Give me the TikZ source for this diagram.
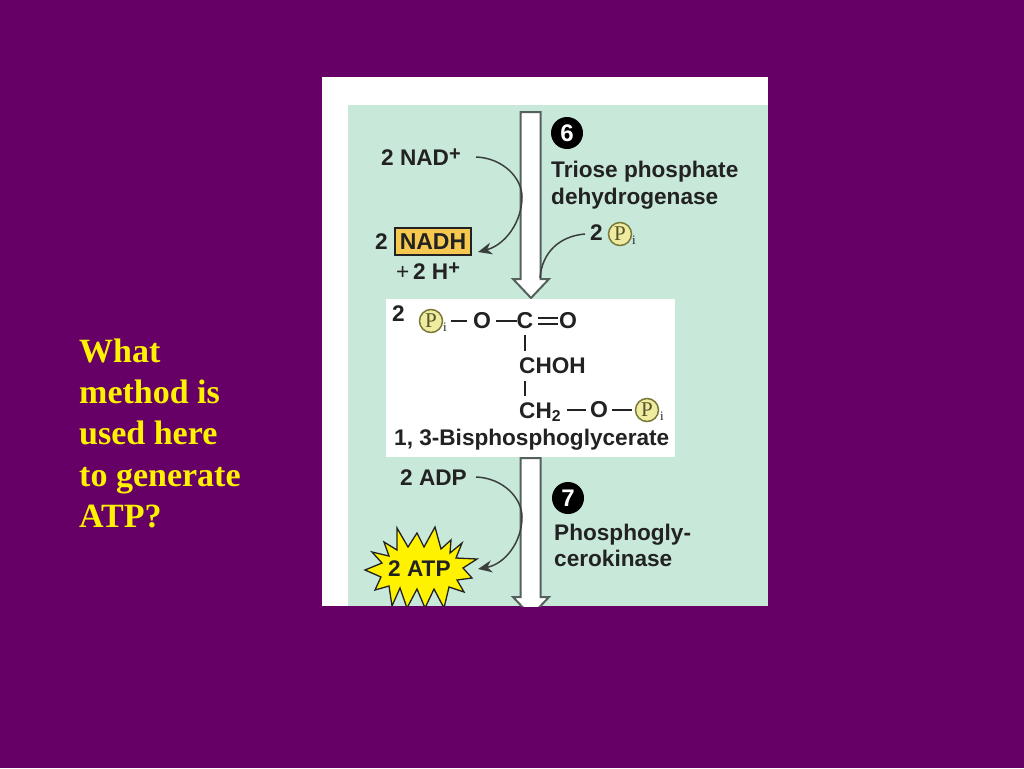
\documentclass[tikz,border=0pt]{standalone}
\usepackage{fontspec}
\setmainfont{Liberation Sans}
\newfontfamily\serifbold[BoldFont=Liberation Serif Bold]{Liberation Serif}
\usetikzlibrary{arrows.meta}
\definecolor{bgpurple}{HTML}{660066}
\definecolor{panelgreen}{HTML}{C8E8DA}
\definecolor{ink}{HTML}{222222}
\definecolor{pfill}{HTML}{EFEBA0}
\definecolor{pedge}{HTML}{7A7A38}
\definecolor{nadhfill}{HTML}{F6C850}
\tikzset{
  lab/.style={anchor=base west,inner sep=0pt,text=ink,font=\fontsize{22.6}{24}\bfseries},
  atom/.style={anchor=center,inner sep=0pt,text=ink,font=\fontsize{23}{24}\bfseries},
  title/.style={anchor=base west,inner sep=0pt,text=yellow,font=\fontsize{34}{36}\serifbold\bfseries},
  bond/.style={draw=ink,line width=1.4pt},
  curvearrow/.style={draw=ink!85!panelgreen,line width=1.5pt},
  blockarrow/.style={draw=black!58!panelgreen,line width=2pt,fill=white},
  badge/.style={circle,fill=black,text=white,minimum size=32pt,inner sep=0pt,font=\fontsize{24}{26}\bfseries},
  phos/.style={circle,draw=pedge,fill=pfill,line width=1.5pt,minimum size=23pt,inner sep=0pt,text=pedge!70!black,font=\fontsize{21}{22}\serifbold},
  subi/.style={anchor=base,inner sep=0pt,text=ink,font=\fontsize{13}{14}\serifbold},
}
\begin{document}
\begin{tikzpicture}[x=1pt,y=-1pt]
\fill[bgpurple] (0,0) rectangle (1024,768);
\useasboundingbox (0,0) rectangle (1024,768);
\begin{scope}
\clip (322,77) rectangle (768,606);
\fill[white] (322,77) rectangle (768,606);
\fill[panelgreen] (348,105) rectangle (768,606);
% block arrows
\draw[blockarrow,line join=miter] (520.5,112) -- (540.5,112) -- (540.5,279) -- (549,279) -- (531,298) -- (513,279) -- (520.5,279) -- cycle;
\draw[blockarrow,line join=miter] (520.5,458) -- (540.5,458) -- (540.5,597) -- (549,597) -- (531,616) -- (513,597) -- (520.5,597) -- cycle;
% starburst
\draw[fill=yellow,draw=ink,line width=1.3pt,line join=miter]
 (365,570) -- (382,563) -- (372,552) -- (389,556) -- (384,542) -- (397,550) -- (397,528) -- (408,547) -- (417,533) -- (424,547) -- (435,527) -- (441,549) -- (451,540) -- (450,553) -- (462,543) -- (456,558) -- (477,559) -- (463,568) -- (472,578) -- (457,580) -- (464,592) -- (449,587) -- (444,608) -- (434,589) -- (425,608) -- (417,589) -- (407,608) -- (400,588) -- (392,606) -- (389,586) -- (375,590) -- (381,577) -- cycle;
\node[lab] (atp) at (388,576) {2 ATP};
\end{scope}
% white structure box
\fill[white] (386,299) rectangle (675,457);
% step 6
\node[badge] (six) at (567,133) {6};
\node[lab] (tp1) at (551,177) {Triose phosphate};
\node[lab] (tp2) at (551,204) {dehydrogenase};
\node[lab] (nad) at (381,165) {2 NAD\raisebox{5pt}{\fontsize{20}{20}\selectfont +}};
\node[lab] (two) at (375,249) {2};
\node[draw=ink,line width=1.3pt,fill=nadhfill,inner sep=0pt,minimum width=76pt,minimum height=27pt,text=ink,font=\fontsize{23}{24}\bfseries] (nadh) at (433,241.5) {NADH};
\node[lab] (hplus) at (396,279) {\textmd{+}\,2 H\raisebox{5pt}{\fontsize{20}{20}\selectfont +}};
\coordinate (nadstart) at (476,157);
\coordinate (nadmid) at (522,197);
\coordinate (nadend) at (478,252);
\draw[curvearrow] (nadstart) .. controls (503,158) and (522,178) .. (nadmid);
\draw[curvearrow,-{Stealth[length=14pt,width=12pt]}] (nadmid) .. controls (522,222) and (505,245) .. (nadend);
\node[lab] (pitwo) at (590,240) {2};
\node[phos] (pi1) at (620,234) {P};
\node[subi] (pi1i) at (634,244) {i};
\coordinate (pistart) at (585,234);
\coordinate (piend) at (540,278);
\draw[curvearrow] (pistart) .. controls (560,236) and (542,252) .. (piend);
% structure
\node[lab] (twob) at (392,321) {2};
\node[phos] (pa) at (431,321) {P};
\node[subi] (pai) at (445,331) {i};
\node[atom] (oa) at (482,321) {O};
\node[atom] (ca) at (525,321) {C};
\node[atom] (ob) at (568,321) {O};
\node[lab] (choh) at (519,373) {CHOH};
\node[lab] (ch2) at (519,418) {CH\textsubscript{2}};
\node[atom] (oc) at (599,410) {O};
\node[phos] (pb) at (647,410) {P};
\node[subi] (pbi) at (662,420) {i};
\node[lab] (bpg) at (394,445) {1, 3-Bisphosphoglycerate};
\coordinate (pabond) at (451,321);
\coordinate (oaw) at (467,321);
\coordinate (ch2e) at (567,410);
\draw[bond] (pabond) -- (oaw);
\draw[bond] (496,321) -- (517,321);
\draw[bond] (538,318) -- (558,318);
\draw[bond] (538,324) -- (558,324);
\draw[bond] (525,335) -- (525,351);
\draw[bond] (525,381) -- (525,396);
\draw[bond] (ch2e) -- (586,410);
\draw[bond] (612,410) -- (632,410);
% step 7
\node[badge] (seven) at (568,498) {7};
\node[lab] (pk1) at (554,540) {Phosphogly-};
\node[lab] (pk2) at (554,566) {cerokinase};
\node[lab] (adp) at (400,485) {2 ADP};
\coordinate (adpstart) at (476,477);
\coordinate (adpmid) at (522,517);
\coordinate (adpend) at (478,569);
\draw[curvearrow] (adpstart) .. controls (503,478) and (522,498) .. (adpmid);
\draw[curvearrow,-{Stealth[length=14pt,width=12pt]}] (adpmid) .. controls (522,542) and (505,564) .. (adpend);
% question
\node[title] (q1) at (79,362) {What};
\node[title] (q2) at (79,403) {method is};
\node[title] (q3) at (79,444) {used here};
\node[title] (q4) at (79,486) {to generate};
\node[title] (q5) at (79,527) {ATP?};
\end{tikzpicture}
\end{document}
